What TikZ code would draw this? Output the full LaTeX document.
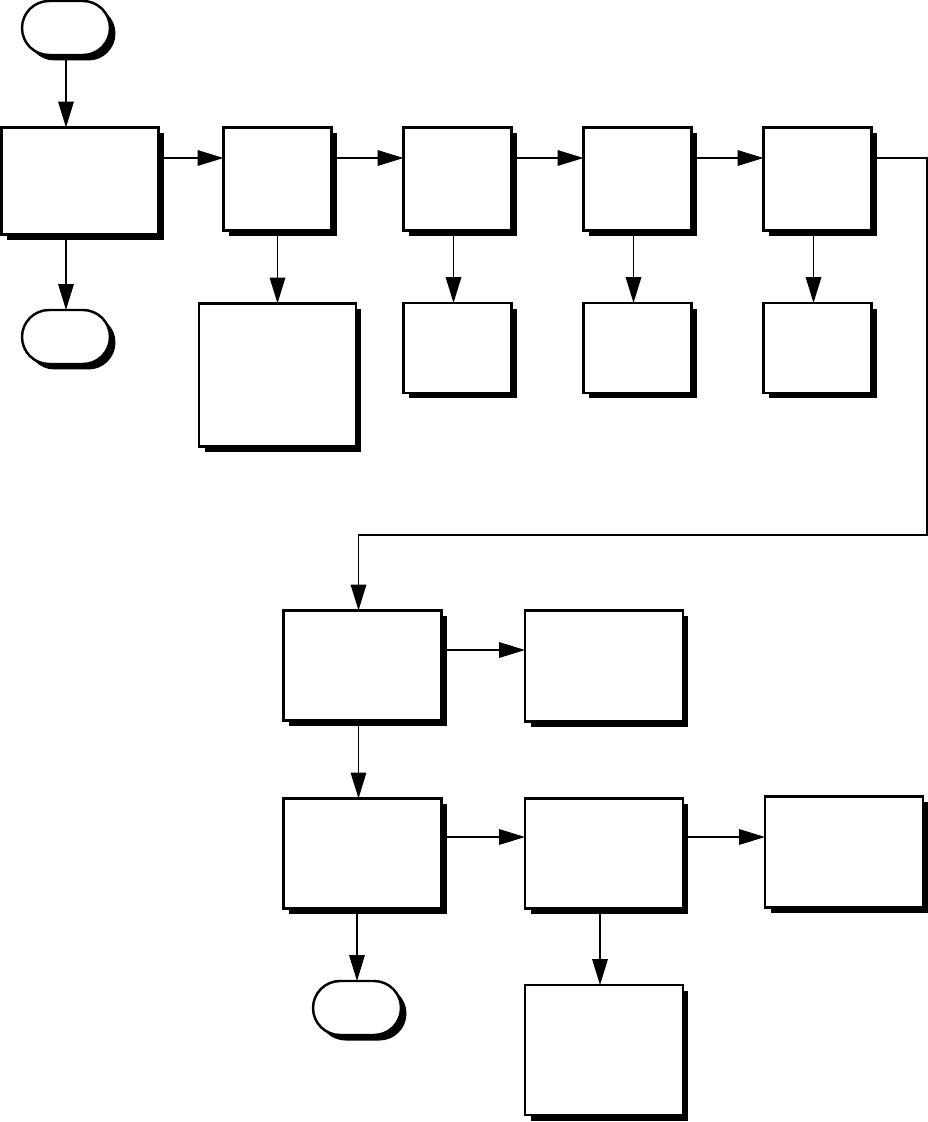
\documentclass[tikz,border=0pt]{standalone}
\usetikzlibrary{arrows.meta}
\usetikzlibrary{shapes.misc}
\usetikzlibrary{shadows}

\begin{document}
\begin{tikzpicture}[x=0.02cm,y=-0.02cm,
    box/.style={draw,line width=1.4pt,fill=white,inner sep=0pt,outer sep=0pt,
        drop shadow={shadow xshift=0.11cm,shadow yshift=-0.11cm,opacity=1,fill=black}},
    term/.style={box,rounded rectangle,minimum width=1.76cm,minimum height=1.08cm},
    arr/.style={line width=1pt,-{Triangle[length=0.52cm,width=0.31cm]}}]
    \useasboundingbox (0,0) rectangle (928,1122);
    % Top row
    \node[term] (start) at (66,28) {};
    \node[box,minimum width=3.14cm,minimum height=2.14cm] (A) at (80,181) {};
    \foreach \n/\x in {B/277.5,C/457.5,D/637.5,E/817.5}
        \node[box,minimum width=2.16cm,minimum height=2.06cm] (\n) at (\x,179) {};
    % Second row
    \node[term] (end1) at (66,337) {};
    \node[box,minimum width=3.14cm,minimum height=2.86cm] (B2) at (277.5,375) {};
    \foreach \n/\x in {C2/457.5,D2/637.5,E2/817.5}
        \node[box,minimum width=2.16cm,minimum height=1.8cm] (\n) at (\x,348) {};
    % Lower part
    \node[box,minimum width=3.16cm,minimum height=2.2cm] (F) at (362.5,665.5) {};
    \node[box,minimum width=3.16cm,minimum height=2.22cm] (G) at (604,666) {};
    \node[box,minimum width=3.16cm,minimum height=2.2cm] (H) at (362.5,853.5) {};
    \node[box,minimum width=3.16cm,minimum height=2.2cm] (I) at (604,853.5) {};
    \node[box,minimum width=3.16cm,minimum height=2.22cm] (J) at (844,852) {};
    \node[term] (end3) at (357,1008) {};
    \node[box,minimum width=3.16cm,minimum height=2.6cm] (K) at (604,1050) {};
    % Connectors
    \coordinate (row1) at (0,158);
    \coordinate (row2) at (0,650);
    \coordinate (row3) at (0,837);
    \coordinate (turn) at (927,535);
    \draw[arr] (start) -- (start |- A.north);
    \draw[arr] (A.south -| end1) -- (end1);
    \foreach \a/\b in {A/B,B/C,C/D,D/E}
        \draw[arr] (\a.east |- row1) -- (\b.west |- row1);
    \draw[arr] (B.south) -- (B2.north);
    \foreach \a in {C,D,E}
        \draw[arr] ([xshift=-0.08cm]\a.south) -- ([xshift=-0.08cm]\a2.north);
    \draw[arr] (E.east |- row1) -| (turn) -| ([xshift=-0.08cm]F.north); % back to the lower part
    \draw[arr] (F.east |- row2) -- (G.west |- row2);
    \draw[arr] ([xshift=-0.08cm]F.south) -- ([xshift=-0.08cm]H.north);
    \draw[arr] (H.east |- row3) -- (I.west |- row3);
    \draw[arr] (I.east |- row3) -- (J.west |- row3);
    \draw[arr] (H.south -| end3) -- (end3);
    \draw[arr] ([xshift=-0.08cm]I.south) -- ([xshift=-0.08cm]K.north);
\end{tikzpicture}
\end{document}
